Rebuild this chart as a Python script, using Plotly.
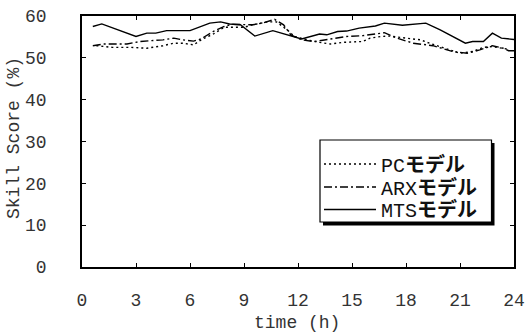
import plotly.graph_objects as go

# ---- data ----
mts_t = [0.6, 1.1, 3.0, 3.6, 4.1, 4.7, 6.0, 7.1, 7.7, 8.2, 8.8, 9.6, 10.6, 11.4, 12.2, 13.2, 13.6,
         14.2, 14.7, 15.4, 16.3, 16.8, 17.8, 19.1, 19.9, 21.3, 21.7, 22.3, 22.8, 23.3, 24.0]
mts_v = [57.5, 58.1, 55.1, 55.9, 55.9, 56.5, 56.5, 58.3, 58.6, 58.1, 57.9, 55.2, 56.5, 55.5, 54.5, 55.7, 55.5,
         56.3, 56.4, 57.1, 57.6, 58.3, 57.8, 58.3, 56.7, 53.5, 53.9, 53.9, 55.9, 54.7, 54.4]

arx_t = [0.6, 1.2, 2.5, 3.2, 3.8, 4.5, 5.1, 5.6, 6.2, 6.6, 7.3, 7.9, 8.3, 9.5, 10.1, 10.7, 11.2, 11.6,
         12.2, 12.9, 13.8, 14.7, 15.6, 16.2, 16.8, 17.5, 18.4, 19.5, 20.6, 21.4, 22.1, 22.8, 23.4, 23.7, 24.0]
arx_v = [52.9, 53.3, 53.3, 53.9, 54.1, 54.3, 54.7, 54.3, 54.0, 54.5, 56.3, 57.5, 58.0, 57.9, 58.4, 59.2, 57.9, 55.5,
         54.3, 53.9, 54.5, 55.1, 55.3, 55.7, 56.0, 54.7, 53.5, 52.9, 51.5, 51.1, 51.9, 52.9, 52.3, 51.7, 51.7]

pc_t = [0.8, 1.7, 2.7, 3.6, 4.5, 5.1, 5.6, 6.2, 6.7, 7.3, 7.9, 9.0, 9.5, 10.3, 10.8, 11.4, 11.8,
        12.5, 13.2, 13.8, 14.5, 15.6, 16.0, 16.6, 17.1, 18.0, 18.8, 19.3, 20.3, 21.0, 21.7, 22.3, 22.8, 23.6]
pc_v = [52.9, 52.5, 52.5, 52.3, 52.9, 53.5, 53.5, 53.1, 54.5, 55.7, 57.3, 57.3, 57.9, 58.6, 58.6, 56.7, 55.1,
        54.3, 53.7, 53.3, 53.7, 53.9, 54.7, 55.1, 55.2, 54.7, 54.3, 53.5, 52.1, 51.1, 51.5, 52.5, 52.7, 52.1]

series_names = ["PC<b>モデル</b>", "ARX<b>モデル</b>", "MTS<b>モデル</b>"]
x_ticks = [0, 3, 6, 9, 12, 15, 18, 21, 24]
y_ticks = [0, 10, 20, 30, 40, 50, 60]
x_title = "time (h)"
y_title = "Skill Score (%)"

MONO = "Liberation Mono, Courier New, Noto Sans CJK JP, monospace"

# plot area in pixels
L, R, T, B = 82, 18, 16, 66
W, H = 532, 333
PW, PH = W - L - R, H - T - B
def px(x):
    return (x - L) / PW
def py(y):
    return (H - B - y) / PH

fig = go.Figure()
fig.add_trace(go.Scatter(x=pc_t, y=pc_v, mode="lines", name=series_names[0], legend="legend",
                         line=dict(color="black", width=1.4, dash="2px,3px")))
fig.add_trace(go.Scatter(x=arx_t, y=arx_v, mode="lines", name=series_names[1], legend="legend2",
                         line=dict(color="black", width=1.4, dash="8px,3px,2px,3px")))
fig.add_trace(go.Scatter(x=mts_t, y=mts_v, mode="lines", name=series_names[2], legend="legend3",
                         line=dict(color="black", width=1.4)))

# legend frame with drop shadow
fig.add_shape(type="rect", xref="paper", yref="paper",
              x0=px(323), x1=px(494.5), y0=py(225.5), y1=py(143),
              fillcolor="black", line=dict(width=0), layer="above")
fig.add_shape(type="rect", xref="paper", yref="paper",
              x0=px(320), x1=px(491.5), y0=py(222), y1=py(140),
              fillcolor="white", line=dict(color="black", width=1.2), layer="above")

def leg(yc):
    return dict(x=px(319), y=py(yc), xanchor="left", yanchor="middle",
                bgcolor="rgba(0,0,0,0)", borderwidth=0,
                font=dict(family=MONO, size=20, color="#111"),
                itemwidth=52, tracegroupgap=0)

fig.update_layout(
    width=W, height=H,
    margin=dict(l=L, r=R, t=T, b=B),
    paper_bgcolor="white", plot_bgcolor="white",
    font=dict(family=MONO, size=18, color="#333"),
    showlegend=True,
    legend=leg(164), legend2=leg(187), legend3=leg(209.5),
)
# axis titles
fig.add_annotation(text=x_title, xref="paper", yref="paper", x=px(297), y=py(323),
                   xanchor="center", yanchor="middle", showarrow=False,
                   font=dict(family=MONO, size=18, color="#333"))
fig.add_annotation(text=y_title, xref="paper", yref="paper", x=px(14), y=py(138),
                   xanchor="center", yanchor="middle", showarrow=False, textangle=-90,
                   font=dict(family=MONO, size=18, color="#333"))

fig.update_xaxes(range=[0, 24], tickvals=x_ticks, ticktext=[str(v) for v in x_ticks],
                 showgrid=False, zeroline=False, showline=True, linecolor="black", linewidth=1.6,
                 mirror="allticks", ticks="inside", ticklen=4, tickcolor="black",
                 ticklabelstandoff=16, automargin=False)
fig.update_yaxes(range=[0, 60], tickvals=y_ticks, ticktext=[str(v) for v in y_ticks],
                 showgrid=False, zeroline=False, showline=True, linecolor="black", linewidth=1.6,
                 mirror="allticks", ticks="inside", ticklen=4, tickcolor="black",
                 ticklabelstandoff=30, automargin=False)

fig.write_html("out.html")
